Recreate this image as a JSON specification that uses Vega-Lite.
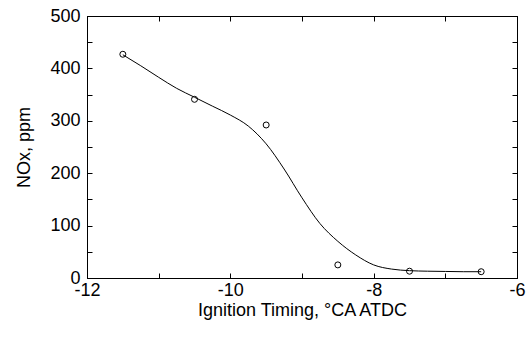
{
  "$schema": "https://vega.github.io/schema/vega-lite/v6.json",
  "autosize": "none",
  "width": 430,
  "height": 262,
  "padding": {"left": 87, "top": 16, "right": 9, "bottom": 63},
  "background": "white",
  "config": {
    "view": {"stroke": "black", "strokeWidth": 1},
    "font": "Liberation Sans",
    "axis": {
      "domainColor": "black",
      "tickColor": "black",
      "labelColor": "black",
      "titleColor": "black",
      "grid": false,
      "labelFont": "Liberation Sans",
      "titleFont": "Liberation Sans",
      "labelFontSize": 18,
      "titleFontSize": 18,
      "titleFontWeight": "normal",
      "tickSize": -5,
      "labelFlush": false,
      "labelOverlap": false
    }
  },
  "datasets": {
    "points": [
      {"timing": -11.5, "nox": 427},
      {"timing": -10.5, "nox": 341},
      {"timing": -9.5, "nox": 292},
      {"timing": -8.5, "nox": 25},
      {"timing": -7.5, "nox": 13},
      {"timing": -6.5, "nox": 12}
    ],
    "curve": [
      {"timing": -11.5, "nox": 426},
      {"timing": -11.25, "nox": 405},
      {"timing": -11.0, "nox": 383},
      {"timing": -10.75, "nox": 362},
      {"timing": -10.5, "nox": 345},
      {"timing": -10.25, "nox": 328},
      {"timing": -10.0, "nox": 311},
      {"timing": -9.75, "nox": 290},
      {"timing": -9.5, "nox": 256},
      {"timing": -9.25, "nox": 208},
      {"timing": -9.0, "nox": 153},
      {"timing": -8.75, "nox": 104},
      {"timing": -8.5, "nox": 70},
      {"timing": -8.25, "nox": 44},
      {"timing": -8.0, "nox": 25},
      {"timing": -7.75, "nox": 17},
      {"timing": -7.5, "nox": 14},
      {"timing": -7.25, "nox": 13},
      {"timing": -7.0, "nox": 12.5},
      {"timing": -6.75, "nox": 12},
      {"timing": -6.5, "nox": 12}
    ]
  },
  "layer": [
    {
      "data": {"name": "curve"},
      "mark": {"type": "line", "color": "black", "strokeWidth": 1, "interpolate": "monotone"},
      "encoding": {
        "x": {
          "field": "timing", "type": "quantitative",
          "scale": {"domain": [-12, -6], "nice": false},
          "axis": {
            "orient": "bottom",
            "title": "Ignition Timing, °CA ATDC",
            "values": [-12, -11, -10, -9, -8, -7, -6],
            "labelExpr": "datum.value % 2 == 0 ? replace(datum.label, '−', '-') : ''",
            "labelPadding": 8,
            "titlePadding": 2
          }
        },
        "y": {
          "field": "nox", "type": "quantitative",
          "scale": {"domain": [0, 500], "nice": false},
          "axis": {
            "orient": "left",
            "title": "NOx, ppm",
            "values": [0, 50, 100, 150, 200, 250, 300, 350, 400, 450, 500],
            "labelExpr": "datum.value % 100 == 0 ? datum.label : ''",
            "labelPadding": 12,
            "titlePadding": 16
          }
        }
      }
    },
    {
      "data": {"name": "points"},
      "mark": {"type": "point", "shape": "circle", "size": 36, "filled": false, "stroke": "black", "strokeWidth": 1, "opacity": 1},
      "encoding": {
        "x": {
          "field": "timing", "type": "quantitative",
          "scale": {"domain": [-12, -6], "nice": false},
          "axis": {
            "orient": "top",
            "title": null,
            "values": [-12, -11, -10, -9, -8, -7, -6],
            "labels": false
          }
        },
        "y": {
          "field": "nox", "type": "quantitative",
          "scale": {"domain": [0, 500], "nice": false},
          "axis": {
            "orient": "right",
            "title": null,
            "values": [0, 50, 100, 150, 200, 250, 300, 350, 400, 450, 500],
            "labels": false
          }
        }
      }
    }
  ],
  "resolve": {"axis": {"x": "independent", "y": "independent"}}
}
